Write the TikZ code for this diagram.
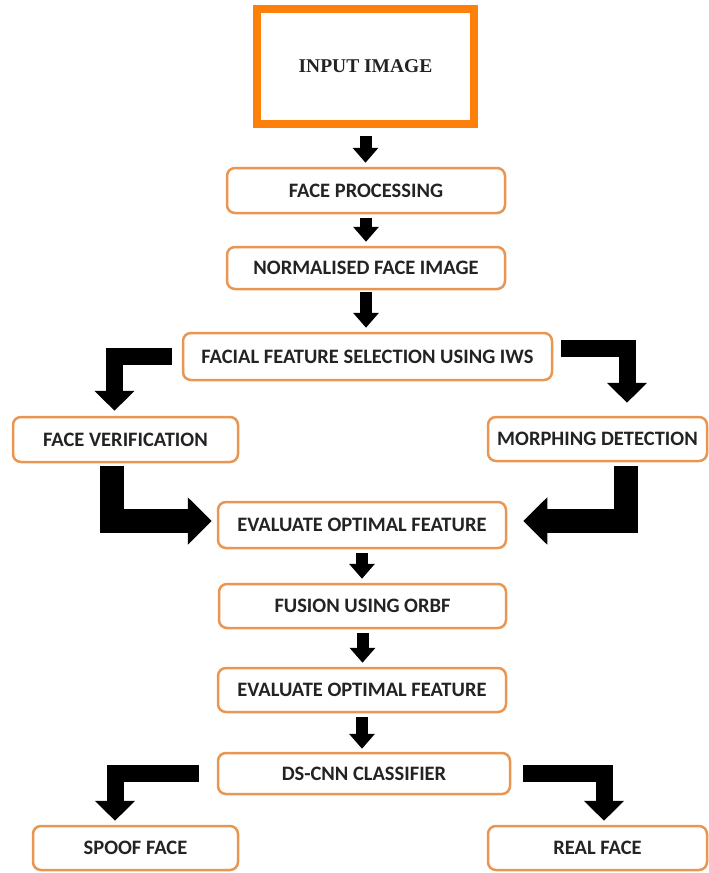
\documentclass[tikz,border=0pt]{standalone}
\usepackage{fontspec}
\setmainfont{Carlito}
\newfontfamily\framefont{Liberation Serif}
\usepackage{tikz}
\usetikzlibrary{arrows.meta}

\definecolor{boxorange}{RGB}{233,150,82}
\definecolor{frameorange}{RGB}{252,128,10}
\definecolor{textgray}{RGB}{35,35,35}

\tikzset{
  procbox/.style={draw=boxorange, line width=2.5pt, rounded corners=8pt, fill=white,
    inner sep=0pt, text=textgray, font=\fontsize{20.5}{24}\selectfont\bfseries},
  downarrow/.style={line width=12pt, -{Triangle[length=15pt,width=25pt]}, shorten <=4pt, shorten >=4pt},
  bentarrow/.style={line width=17pt, line join=miter, -{Triangle[length=20pt,width=39pt]}},
  bigbent/.style={line width=24pt, line join=miter, -{Triangle[length=24pt,width=46pt]}}
}

\begin{document}
\begin{tikzpicture}[x=1pt,y=-1pt]
\useasboundingbox (0,0) rectangle (709,873);
% input frame
\node[draw=frameorange, line width=8pt, minimum width=217pt, minimum height=115pt, inner sep=0pt,
  text=textgray, font=\framefont\fontsize{19.5}{22}\selectfont\bfseries] (input) at (365.5,66.5) {INPUT IMAGE};
% process boxes
\node[procbox, minimum width=278pt, minimum height=45pt] (proc) at (366,190.5) {FACE PROCESSING};
\node[procbox, minimum width=278pt, minimum height=42pt] (norm) at (366,268) {NORMALISED FACE IMAGE};
\node[procbox, minimum width=369pt, minimum height=47pt] (facial) at (367.5,356.5) {FACIAL FEATURE SELECTION USING IWS};
\node[procbox, minimum width=225pt, minimum height=45pt] (verif) at (125.5,439.5) {FACE VERIFICATION};
\node[procbox, minimum width=219pt, minimum height=44pt] (morph) at (597.5,439) {MORPHING DETECTION};
\node[procbox, minimum width=288pt, minimum height=46pt] (evalA) at (362,525) {EVALUATE OPTIMAL FEATURE};
\node[procbox, minimum width=287pt, minimum height=44pt] (fusion) at (362.5,606) {FUSION USING ORBF};
\node[procbox, minimum width=288pt, minimum height=44pt] (evalB) at (362,690) {EVALUATE OPTIMAL FEATURE};
\node[procbox, minimum width=292pt, minimum height=41pt] (dscnn) at (364,773.5) {DS-CNN CLASSIFIER};
\node[procbox, minimum width=205pt, minimum height=44pt] (spoof) at (135.5,848) {SPOOF FACE};
\node[procbox, minimum width=219pt, minimum height=44pt] (real) at (597.5,848) {REAL FACE};

% straight arrows
\draw[downarrow, shorten <=8pt] (input.south) -- (input.south |- proc.north);
\draw[downarrow] (proc.south) -- (proc.south |- norm.north);
\draw[downarrow, shorten <=2pt] (norm.south) -- (norm.south |- facial.north);
\draw[downarrow] (evalA.south) -- (evalA.south |- fusion.north);
\draw[downarrow] (fusion.south) -- (fusion.south |- evalB.north);
\draw[downarrow, shorten >=3pt] (evalB.south) -- (evalB.south |- dscnn.north);

% bent arrows
\draw[bentarrow, shorten <=10pt, shorten >=5pt] (facial.west) -| ([xshift=-11pt]verif.north);
\draw[bentarrow, shorten <=8pt, shorten >=13pt] ([yshift=8pt]facial.east) -| ([xshift=29.5pt]morph.north);
\draw[bigbent, shorten <=3pt, shorten >=5pt] ([xshift=-13.5pt]verif.south) |- ([yshift=4pt]evalA.west);
\draw[bigbent, shorten <=4pt, shorten >=16pt] ([xshift=28.5pt]morph.south) |- ([yshift=4pt]evalA.east);
\draw[bentarrow, shorten <=18pt, shorten >=4pt] (dscnn.west) -| ([xshift=-20.5pt]spoof.north);
\draw[bentarrow, shorten <=12pt, shorten >=4pt] (dscnn.east) -| ([xshift=6.5pt]real.north);
\end{tikzpicture}
\end{document}
